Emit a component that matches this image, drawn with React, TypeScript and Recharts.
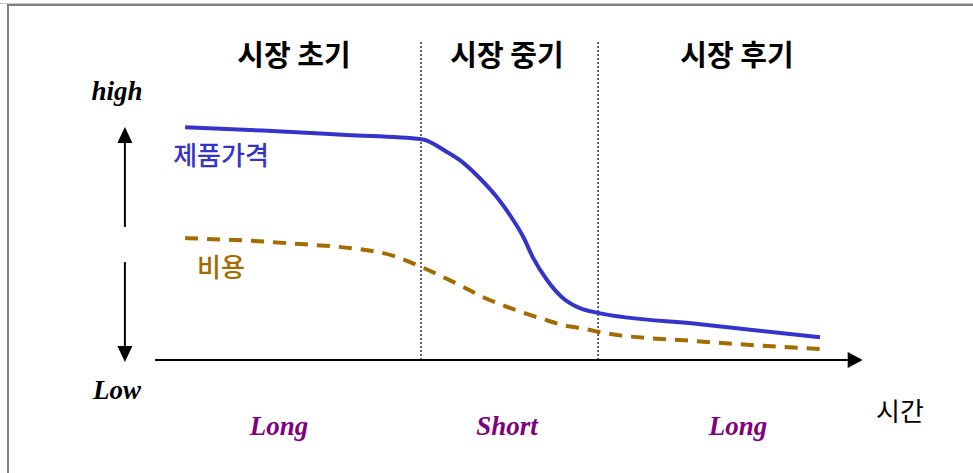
import { LineChart, Line, XAxis, YAxis, ReferenceLine } from 'recharts'

// time axis runs 0..100, level axis 0 (low) .. 100 (high)
const priceX = [4.3, 15.4, 27.4, 38.1, 41.7, 44.0, 46.4, 48.8, 50.7, 52.6, 54.0, 56.0, 58.3, 60.7, 63.1, 77.9, 95]
const priceY = [72.7, 71.7, 70.3, 69.0, 65.0, 61.7, 56.8, 51.0, 45.3, 38.5, 32.0, 25.0, 19.3, 16.2, 14.8, 11.2, 7.1]

const costX = [4.3, 18.3, 32.6, 37.9, 41.1, 44.0, 46.9, 49.7, 52.6, 55.4, 58.3, 61.7, 64.0, 77.9, 95]
const costY = [38.1, 36.6, 33.4, 29.2, 26.0, 22.9, 19.6, 17.1, 14.8, 12.8, 10.9, 9.6, 8.5, 5.8, 3.4]

const phaseDividers = [38, 63.3]
const phaseLabels = ['시장 초기', '시장 중기', '시장 후기']
const cycleLabels = ['Long', 'Short', 'Long']

const priceData = priceX.map((x, i) => ({ x, y: priceY[i] }))
const costData = costX.map((x, i) => ({ x, y: costY[i] }))

const W = 973
const H = 473

const Arrow = (props: any) => {
  const { x1, y1, x2, y2, len, half } = props
  const dx = x2 - x1
  const dy = y2 - y1
  const d = Math.hypot(dx, dy) || 1
  const ux = dx / d
  const uy = dy / d
  const bx = x2 - ux * len
  const by = y2 - uy * len
  const px = -uy * half
  const py = ux * half
  return (
    <g>
      <line x1={x1} y1={y1} x2={bx} y2={by} stroke="#000" strokeWidth={2} />
      <polygon points={`${x2},${y2} ${bx + px},${by + py} ${bx - px},${by - py}`} fill="#000" />
    </g>
  )
}

const kr = '"Noto Sans CJK KR", "Noto Sans", sans-serif'
const serif = '"Liberation Serif", "DejaVu Serif", serif'

const TextAt = ({ x, y, children, style }: { x: number; y: number; children: any; style: any }) => (
  <div
    style={{
      position: 'absolute',
      left: x,
      top: y,
      transform: 'translate(-50%, -50%)',
      whiteSpace: 'nowrap',
      lineHeight: 1,
      ...style,
    }}
  >
    {children}
  </div>
)

export default function App() {
  const phaseStyle = { fontFamily: kr, fontWeight: 700, fontSize: 29, color: '#000' }
  const cycleStyle = { fontFamily: serif, fontStyle: 'italic', fontWeight: 700, fontSize: 27, color: '#800080' }
  const levelStyle = { fontFamily: serif, fontStyle: 'italic', fontWeight: 700, fontSize: 27, color: '#000' }
  const phaseCenters = [294, 507, 737]
  const cycleCenters = [279, 507, 738]

  return (
    <div style={{ position: 'absolute', left: 0, top: 0, width: W, height: H, background: '#fff', overflow: 'hidden' }}>
      <div style={{ position: 'absolute', left: 0, top: 3, width: W, height: 1, background: '#c8c8c8' }} />
      <div style={{ position: 'absolute', left: 7, top: 4, width: W, height: H, borderTop: '2px solid #808080', borderLeft: '2px solid #808080' }} />
      <LineChart width={W} height={H} data={priceData} margin={{ top: 40, right: 118, left: 155, bottom: 113 }}>
        <XAxis type="number" dataKey="x" domain={[0, 100]} hide allowDataOverflow />
        <YAxis type="number" domain={[0, 100]} hide allowDataOverflow />
        {phaseDividers.map((x) => (
          <ReferenceLine key={x} x={x} stroke="#333" strokeWidth={1.5} strokeDasharray="2 2" />
        ))}
        <ReferenceLine
          segment={[{ x: 0, y: 0 }, { x: 101.1, y: 0 }]}
          ifOverflow="visible"
          shape={(p: any) => <Arrow {...p} len={15} half={8} />}
        />
        <ReferenceLine
          segment={[{ x: -4.3, y: 41.6 }, { x: -4.3, y: 72.8 }]}
          ifOverflow="visible"
          shape={(p: any) => <Arrow {...p} len={16} half={7.5} />}
        />
        <ReferenceLine
          segment={[{ x: -4.3, y: 30.6 }, { x: -4.3, y: -0.6 }]}
          ifOverflow="visible"
          shape={(p: any) => <Arrow {...p} len={16} half={7.5} />}
        />
        <Line
          data={costData}
          dataKey="y"
          type="monotone"
          stroke="#a46b00"
          strokeWidth={4}
          strokeDasharray="13 9"
          dot={false}
          isAnimationActive={false}
        />
        <Line
          data={priceData}
          dataKey="y"
          type="monotone"
          stroke="#3434cc"
          strokeWidth={4}
          dot={false}
          isAnimationActive={false}
        />
      </LineChart>
      {phaseLabels.map((t, i) => (
        <TextAt key={t} x={phaseCenters[i]} y={53} style={phaseStyle}>{t}</TextAt>
      ))}
      {cycleLabels.map((t, i) => (
        <TextAt key={i} x={cycleCenters[i]} y={426} style={cycleStyle}>{t}</TextAt>
      ))}
      <TextAt x={117} y={91} style={levelStyle}>high</TextAt>
      <TextAt x={117} y={390} style={levelStyle}>Low</TextAt>
      <TextAt x={221} y={154} style={{ fontFamily: kr, fontSize: 26, fontWeight: 500, color: '#3434cc' }}>제품가격</TextAt>
      <TextAt x={221} y={266} style={{ fontFamily: kr, fontSize: 26, fontWeight: 500, color: '#a46b00' }}>비용</TextAt>
      <TextAt x={900} y={410} style={{ fontFamily: kr, fontSize: 26, color: '#000' }}>시간</TextAt>
    </div>
  )
}
